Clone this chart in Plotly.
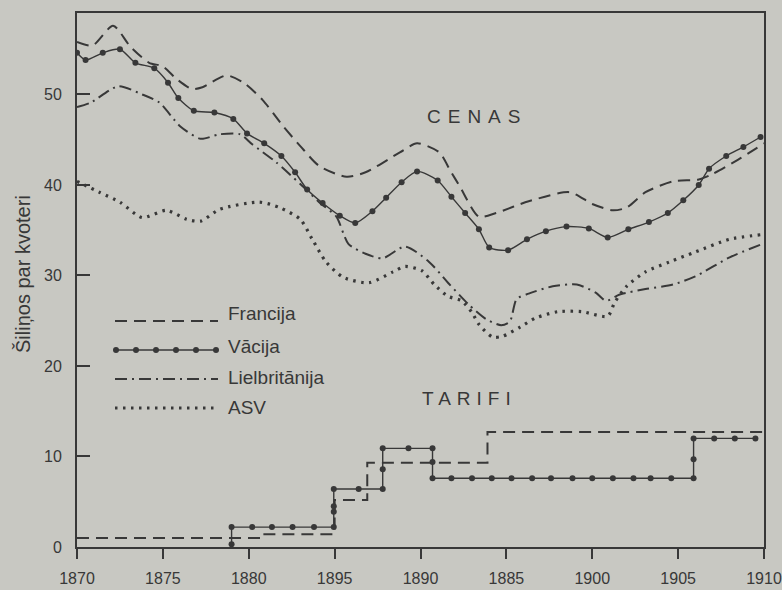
import plotly.graph_objects as go

# ---------------- data ----------------
fr_years = [1870.0, 1870.9, 1872.1, 1873.1, 1874.2, 1875.0, 1875.8, 1876.7, 1877.3, 1878.7,
            1879.7, 1880.8, 1882.0, 1883.0, 1884.1, 1885.7, 1886.8, 1888.8, 1889.8, 1891.1,
            1891.7, 1892.3, 1893.4, 1894.4, 1896.3, 1898.7, 1900.0, 1901.2, 1902.0, 1903.1,
            1904.7, 1906.2, 1907.0, 1908.5, 1910.0]
fr_price = [55.8, 55.4, 57.6, 55.3, 53.5, 53.1, 51.7, 50.6, 50.8, 52.1,
            51.3, 49.4, 46.5, 44.3, 42.1, 40.9, 41.4, 43.6, 44.6, 43.6,
            41.7, 39.8, 36.5, 36.9, 38.2, 39.2, 37.9, 37.2, 37.5, 39.2,
            40.4, 40.6, 41.2, 42.8, 44.6]

de_years = [1870.0, 1870.5, 1871.5, 1872.5, 1873.4, 1874.5, 1875.3, 1875.9, 1876.8, 1878.0,
            1879.1, 1879.9, 1880.9, 1881.9, 1882.7, 1883.4, 1884.3, 1885.3, 1886.2, 1887.2,
            1888.0, 1888.9, 1889.8, 1891.0, 1891.8, 1892.6, 1893.4, 1894.0, 1895.1, 1896.2,
            1897.3, 1898.5, 1899.8, 1900.9, 1902.1, 1903.3, 1904.4, 1905.3, 1906.2, 1906.8,
            1907.8, 1908.8, 1909.8]
de_price = [54.6, 53.8, 54.6, 55.0, 53.5, 52.9, 51.3, 49.6, 48.2, 48.0,
            47.3, 45.7, 44.6, 43.2, 41.4, 39.5, 38.0, 36.6, 35.8, 37.1,
            38.6, 40.3, 41.5, 40.5, 38.7, 36.9, 35.1, 33.1, 32.8, 34.0,
            34.9, 35.4, 35.2, 34.2, 35.1, 35.9, 36.9, 38.3, 40.0, 41.8,
            43.2, 44.2, 45.3]

gb_years = [1870.0, 1870.8, 1872.4, 1873.8, 1874.8, 1876.0, 1877.2, 1878.3, 1879.5, 1880.2,
            1881.6, 1883.0, 1884.1, 1885.1, 1885.8, 1886.8, 1887.8, 1889.1, 1890.5, 1891.6,
            1892.8, 1893.8, 1894.7, 1895.2, 1895.6, 1896.3, 1897.7, 1899.1, 1900.2, 1900.8,
            1901.6, 1903.1, 1904.7, 1906.0, 1908.0, 1909.8]
gb_price = [48.6, 49.1, 50.9, 50.0, 49.1, 46.5, 45.1, 45.6, 45.6, 44.5,
            42.5, 40.1, 38.1, 36.5, 33.5, 32.4, 31.9, 33.2, 31.5, 29.2,
            26.8, 25.2, 24.5, 24.9, 27.4, 28.0, 28.8, 29.0, 28.1, 27.2,
            27.9, 28.5, 29.0, 29.9, 32.0, 33.4]

us_years = [1870.0, 1871.3, 1872.5, 1873.8, 1875.2, 1876.4, 1877.2, 1878.3, 1880.6, 1881.8,
            1883.0, 1883.7, 1884.5, 1885.5, 1887.0, 1888.4, 1889.1, 1890.1, 1890.8, 1891.6,
            1892.4, 1893.0, 1893.4, 1894.2, 1894.8, 1895.8, 1896.7, 1898.0, 1899.4, 1900.9,
            1901.3, 1902.0, 1903.1, 1904.5, 1906.0, 1908.0, 1909.8]
us_price = [40.4, 39.2, 38.1, 36.4, 37.2, 36.2, 36.0, 37.3, 38.1, 37.5,
            36.2, 34.0, 31.5, 29.8, 29.2, 30.4, 31.0, 30.5, 29.0, 27.7,
            27.2, 25.9, 24.6, 23.2, 23.3, 24.3, 25.3, 26.0, 26.0, 25.5,
            27.0, 28.8, 30.4, 31.5, 32.6, 34.0, 34.5]

fr_tariff_years = [1870.0, 1880.8, 1885.0, 1886.9, 1893.9, 1910.0]
fr_tariff = [1.0, 1.4, 5.2, 9.3, 12.7, 12.7]

de_tariff_years = [1879.0, 1879.0, 1880.2, 1881.35, 1882.55, 1883.8, 1884.95, 1884.95, 1884.95, 1884.95,
                   1886.4, 1887.8, 1887.8, 1887.8, 1889.3, 1890.7, 1890.7, 1890.7, 1891.8, 1893.0,
                   1894.15, 1895.3, 1896.5, 1897.6, 1898.85, 1900.0, 1901.2, 1902.4, 1903.4, 1904.6,
                   1905.9, 1905.9, 1905.9, 1907.1, 1908.3, 1909.5]
de_tariff = [0.3, 2.2, 2.2, 2.2, 2.2, 2.2, 2.2, 3.9, 4.5, 6.4,
             6.4, 6.4, 8.6, 10.9, 10.9, 10.9, 9.4, 7.6, 7.6, 7.6,
             7.6, 7.6, 7.6, 7.6, 7.6, 7.6, 7.6, 7.6, 7.6, 7.6,
             7.6, 9.7, 12.0, 12.0, 12.0, 12.0]

x_tickvals = [1870, 1875, 1880, 1885, 1890, 1895, 1900, 1905, 1910]
x_ticktext = ["1870", "1875", "1880", "1895", "1890", "1885", "1900", "1905", "1910"]
y_tickvals = [0, 10, 20, 30, 40, 50]

legend_names = ["Francija", "Vācija", "Lielbritānija", "ASV"]
y_title = "Šiliņos par kvoteri"

# ---------------- styles ----------------
INK = "#383838"
BG = "#c8c8c2"
FONT = "Liberation Sans, Arial, sans-serif"
DASH_FR = "12px,7px"
DASH_GB = "12px,5px,2px,5px"
DASH_US = "2.5px,5.5px"

fig = go.Figure()

def curve(x, y, dash, width):
    fig.add_trace(go.Scatter(x=x, y=y, mode="lines", showlegend=False, hoverinfo="skip",
                             line=dict(color=INK, width=width, dash=dash,
                                       shape="spline", smoothing=0.7)))

curve(fr_years, fr_price, DASH_FR, 2)
curve(gb_years, gb_price, DASH_GB, 2)
curve(us_years, us_price, DASH_US, 3.2)
fig.add_trace(go.Scatter(x=de_years, y=de_price, mode="lines+markers", showlegend=False,
                         hoverinfo="skip",
                         line=dict(color=INK, width=1.4, shape="spline", smoothing=0.7),
                         marker=dict(color=INK, size=6)))

fig.add_trace(go.Scatter(x=fr_tariff_years, y=fr_tariff, mode="lines", showlegend=False,
                         hoverinfo="skip",
                         line=dict(color=INK, width=2, dash=DASH_FR, shape="hv")))
fig.add_trace(go.Scatter(x=de_tariff_years, y=de_tariff, mode="lines+markers", showlegend=False,
                         hoverinfo="skip",
                         line=dict(color=INK, width=1.4),
                         marker=dict(color=INK, size=6)))

# ---------------- layout geometry ----------------
W, H = 782, 590
L, R, T, B = 77, 18, 13, 43
PW, PH = W - L - R, H - T - B

def fx(px):
    return (px - L) / PW

def fy(py):
    return (H - B - py) / PH

shapes = []
annotations = []
leg_rows = [(321, 313), (350, 346), (379, 377), (408, 408)]
styles = [DASH_FR, "solid", DASH_GB, DASH_US]
widths = [2, 1.4, 2, 3.2]
for name, (ly, ty), dash, w in zip(legend_names, leg_rows, styles, widths):
    shapes.append(dict(type="line", xref="paper", yref="paper",
                       x0=fx(115), x1=fx(218), y0=fy(ly), y1=fy(ly),
                       line=dict(color=INK, width=w, dash=dash)))
    annotations.append(dict(text=name, xref="paper", yref="paper", x=fx(226), y=fy(ty),
                            xanchor="left", yanchor="middle", showarrow=False,
                            font=dict(family=FONT, size=19, color=INK)))
for dx in [116, 136, 156, 176, 196, 216]:
    shapes.append(dict(type="circle", xref="paper", yref="paper",
                       xsizemode="pixel", ysizemode="pixel",
                       xanchor=fx(dx), yanchor=fy(350), x0=-3, x1=3, y0=-3, y1=3,
                       fillcolor=INK, line=dict(width=0)))

annotations.append(dict(text='<span style="letter-spacing:7px">CENAS</span>',
                        xref="paper", yref="paper", x=fx(477), y=fy(116),
                        xanchor="center", yanchor="middle", showarrow=False,
                        font=dict(family=FONT, size=19, color=INK)))
annotations.append(dict(text='<span style="letter-spacing:6px">TARIFI</span>',
                        xref="paper", yref="paper", x=fx(469), y=fy(398),
                        xanchor="center", yanchor="middle", showarrow=False,
                        font=dict(family=FONT, size=19, color=INK)))
annotations.append(dict(text=y_title, xref="paper", yref="paper", x=fx(23), y=fy(274),
                        xanchor="center", yanchor="middle", textangle=-90, showarrow=False,
                        font=dict(family=FONT, size=20, color=INK)))

fig.update_layout(
    width=W, height=H,
    margin=dict(l=L, r=R, t=T, b=B, pad=0, autoexpand=False),
    paper_bgcolor=BG, plot_bgcolor=BG,
    showlegend=False,
    shapes=shapes, annotations=annotations,
    font=dict(family=FONT, color=INK),
    xaxis=dict(range=[1870, 1910], tickvals=x_tickvals, ticktext=x_ticktext,
               ticks="outside", ticklen=10, tickwidth=2, tickcolor=INK,
               showline=True, linewidth=2, linecolor=INK, mirror=True,
               showgrid=False, zeroline=False, ticklabelstandoff=6,
               ticklabeloverflow="allow", automargin=False,
               tickfont=dict(family=FONT, size=16, color=INK)),
    yaxis=dict(range=[0, 59], tickvals=y_tickvals,
               ticks="inside", ticklen=13, tickwidth=2, tickcolor=INK,
               showline=True, linewidth=2, linecolor=INK, mirror=True,
               showgrid=False, zeroline=False, ticklabelstandoff=10,
               automargin=False,
               tickfont=dict(family=FONT, size=16, color=INK)),
)

fig.write_html("out.html",
               config={"displayModeBar": False},
               post_script="document.body.style.margin='0px';"
                           "document.body.style.background='" + BG + "';")
